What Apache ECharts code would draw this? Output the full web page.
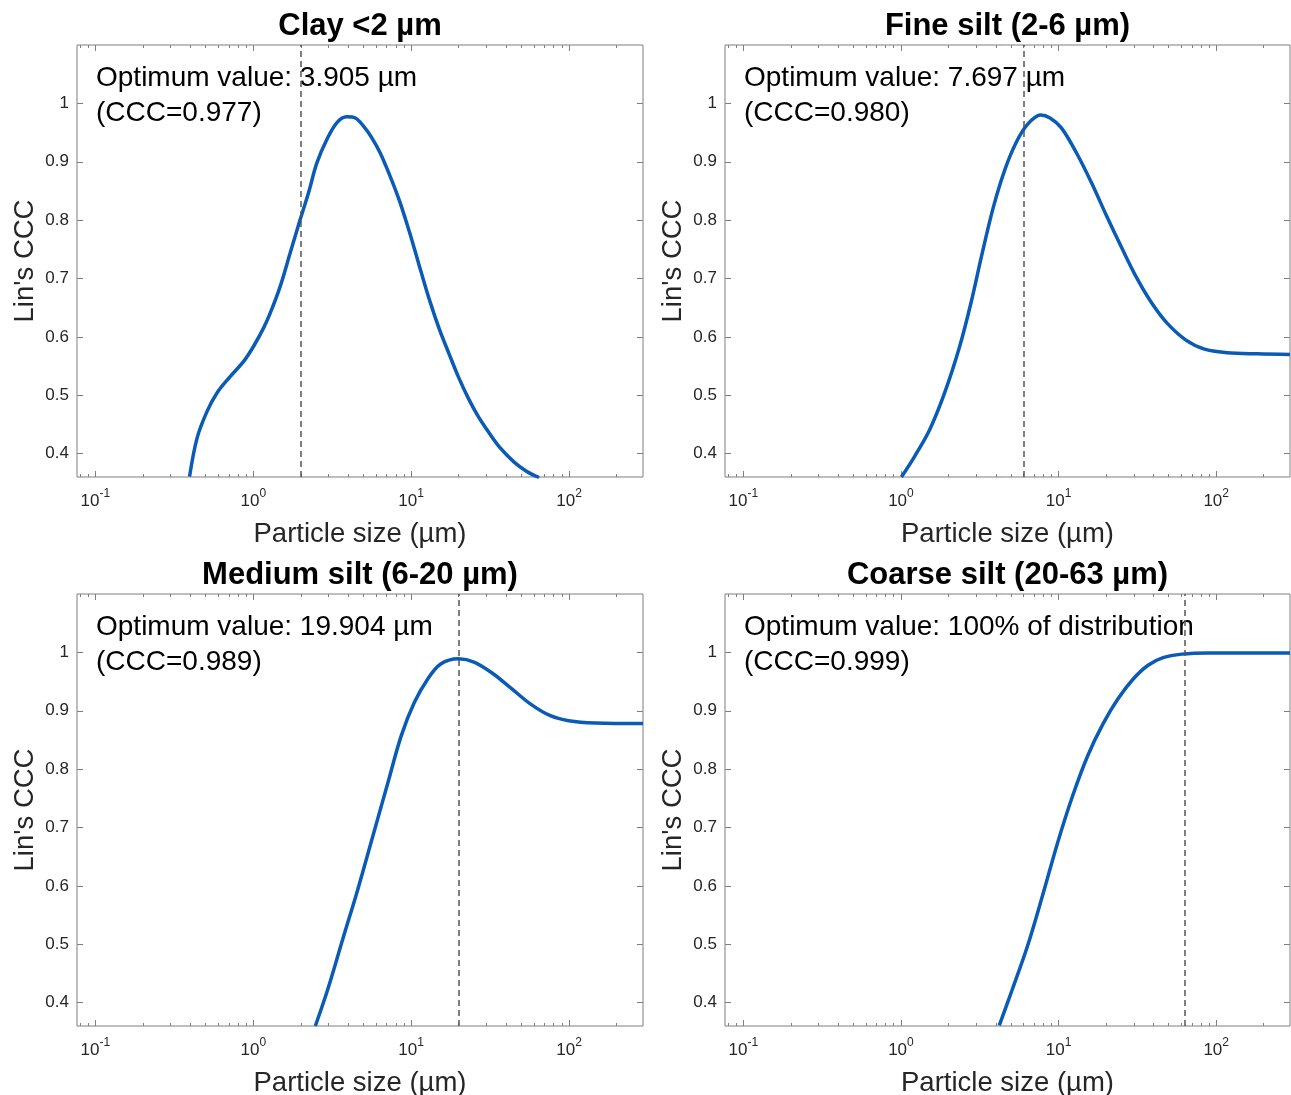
<!DOCTYPE html>
<html><head><meta charset="utf-8">
<script src="https://cdn.jsdelivr.net/npm/echarts@6/dist/echarts.min.js"></script>
<style>html,body{margin:0;padding:0;background:#fff}#c{width:1291px;height:1095px}</style>
</head><body><div id="c"></div>
<script>
// ---------------- data ----------------
const panelTitles = ['Clay <2 µm', 'Fine silt (2-6 µm)', 'Medium silt (6-20 µm)', 'Coarse silt (20-63 µm)'];
const optimumText = ['Optimum value: 3.905 µm', 'Optimum value: 7.697 µm', 'Optimum value: 19.904 µm', 'Optimum value: 100% of distribution'];
const cccText = ['(CCC=0.977)', '(CCC=0.980)', '(CCC=0.989)', '(CCC=0.999)'];
const cutoffs = [2, 6, 20, 63];

const xLabel = 'Particle size (µm)';
const yLabel = "Lin's CCC";
const xMin = 0.0765, xMax = 294;
const yMin = 0.36, yMax = 1.1;
const xMajorTicks = [0.1, 1, 10, 100];
const xMinorTicks = [0.08, 0.09, 0.2, 0.3, 0.4, 0.5, 0.6, 0.7, 0.8, 0.9,
  2, 3, 4, 5, 6, 7, 8, 9, 20, 30, 40, 50, 60, 70, 80, 90, 200];
const yTicks = [0.4, 0.5, 0.6, 0.7, 0.8, 0.9, 1];

const claySize = [0.395, 0.441, 0.509, 0.589, 0.714, 0.869, 1.005, 1.161, 1.282, 1.483, 1.714, 1.982,
  2.239, 2.529, 2.924, 3.388, 3.905, 4.426, 4.989, 5.636, 6.368, 7.362, 8.511, 10.0, 11.48, 13.18,
  15.14, 17.38, 19.95, 22.91, 26.3, 30.2, 36.3, 44.7, 53.7, 64.6];
const clayCCC = [0.361, 0.427, 0.472, 0.504, 0.532, 0.558, 0.584, 0.615, 0.641, 0.687, 0.744, 0.801,
  0.847, 0.898, 0.938, 0.967, 0.977, 0.975, 0.961, 0.941, 0.915, 0.875, 0.830, 0.770, 0.714, 0.660,
  0.612, 0.571, 0.531, 0.496, 0.466, 0.441, 0.411, 0.386, 0.370, 0.359];

const fineSize = [1.007, 1.219, 1.521, 1.892, 2.36, 2.78, 3.281, 3.873, 4.571, 5.383, 6.353, 7.697,
  8.831, 10.42, 13.0, 16.18, 20.18, 25.12, 31.33, 39.0, 48.64, 63.97, 84.33, 117.2, 182, 294];
const fineCCC = [0.360, 0.395, 0.441, 0.504, 0.584, 0.658, 0.744, 0.824, 0.887, 0.933, 0.964, 0.980,
  0.975, 0.958, 0.915, 0.864, 0.807, 0.753, 0.701, 0.658, 0.624, 0.595, 0.579, 0.573, 0.571, 0.570];

const mediumSize = [2.472, 2.965, 3.69, 4.592, 5.728, 7.129, 8.65, 10.47, 12.71, 15.38, 19.904, 25.23,
  33.19, 43.65, 57.41, 75.51, 99.5, 146.2, 294];
const mediumCCC = [0.360, 0.423, 0.509, 0.594, 0.686, 0.777, 0.857, 0.914, 0.954, 0.980, 0.989, 0.983,
  0.963, 0.937, 0.911, 0.892, 0.883, 0.879, 0.878];

const coarseSize = [4.207, 5.093, 6.353, 7.907, 9.863, 12.27, 15.31, 19.1, 23.77, 29.65, 36.98, 46.03,
  60.53, 89.13, 294];
const coarseCCC = [0.361, 0.423, 0.497, 0.583, 0.674, 0.754, 0.823, 0.877, 0.920, 0.954, 0.978, 0.991,
  0.997, 0.999, 0.999];

const sizes = [claySize, fineSize, mediumSize, coarseSize];
const cccs = [clayCCC, fineCCC, mediumCCC, coarseCCC];

// ---------------- layout / style ----------------
const FONT = '"Liberation Sans", Arial, Helvetica, sans-serif';
const BOX = '#7f7f7f';
const TXT = '#262626';
const LINE = '#0a5bb5';
const grids = [
  {left: 77, top: 45, width: 566, height: 432},
  {left: 725, top: 45, width: 565, height: 432},
  {left: 77, top: 594, width: 566, height: 432},
  {left: 725, top: 594, width: 565, height: 432}
];

function isPow10(v) {
  const e = Math.log10(v);
  return Math.abs(e - Math.round(e)) < 1e-6;
}
function powLabel(v) {
  if (!isPow10(v)) return '';
  return '{b|10}{s|' + Math.round(Math.log10(v)) + '}';
}

const xAxes = [], yAxes = [], series = [], graphics = [];
grids.forEach((g, i) => {
  const lmin = Math.log10(xMin), lmax = Math.log10(xMax);
  // main log axis (bottom) with labels
  xAxes.push({
    type: 'log', logBase: 10, gridIndex: i, min: xMin, max: xMax, position: 'bottom',
    axisLine: {show: false, onZero: false}, splitLine: {show: false},
    axisTick: {show: false},
    axisLabel: {
      margin: 11, showMinLabel: true, showMaxLabel: true, formatter: powLabel,
      fontSize: 17, fontFamily: FONT, color: TXT,
      rich: {
        b: {fontSize: 17, fontFamily: FONT, color: TXT, lineHeight: 26},
        s: {fontSize: 12, fontFamily: FONT, color: TXT, verticalAlign: 'top', lineHeight: 12}
      }
    },
    name: xLabel, nameLocation: 'middle', nameGap: 43,
    nameTextStyle: {fontSize: 27.5, fontFamily: FONT, color: TXT}
  });
  // tick axes (log10 space) bottom/top, major/minor
  [['bottom', xMajorTicks, 6], ['bottom', xMinorTicks, 3], ['top', xMajorTicks, 6], ['top', xMinorTicks, 3]].forEach(t => {
    xAxes.push({
      type: 'value', gridIndex: i, min: lmin, max: lmax, position: t[0],
      axisLine: {show: false, onZero: false}, splitLine: {show: false}, axisLabel: {show: false},
      axisTick: {show: true, inside: true, length: t[2], customValues: t[1].map(Math.log10),
        lineStyle: {color: BOX, width: 1}}
    });
  });
  yAxes.push({
    type: 'value', gridIndex: i, min: yMin, max: yMax, position: 'left',
    axisLine: {show: false, onZero: false}, splitLine: {show: false},
    axisTick: {show: true, inside: true, length: 6, customValues: yTicks, lineStyle: {color: BOX}},
    axisLabel: {customValues: yTicks, margin: 8, fontSize: 17, fontFamily: FONT, color: TXT},
    name: yLabel, nameLocation: 'middle', nameGap: 38, nameRotate: 90,
    nameTextStyle: {fontSize: 27.5, fontFamily: FONT, color: TXT}
  });
  yAxes.push({
    type: 'value', gridIndex: i, min: yMin, max: yMax, position: 'right',
    axisLine: {show: false, onZero: false}, splitLine: {show: false}, axisLabel: {show: false},
    axisTick: {show: true, inside: true, length: 6, customValues: yTicks, lineStyle: {color: BOX}}
  });
  series.push({
    type: 'line', xAxisIndex: i * 5, yAxisIndex: i * 2,
    data: sizes[i].map((s, k) => [s, cccs[i][k]]),
    showSymbol: false, smooth: 0.35, clip: true,
    lineStyle: {color: LINE, width: 3.5},
    markLine: {
      silent: true, symbol: ['none', 'none'], label: {show: false},
      lineStyle: {type: [6, 4], color: '#555555', width: 1.5},
      data: [{xAxis: cutoffs[i]}]
    },
    z: 3
  });
  const cx = g.left + g.width / 2;
  graphics.push({
    type: 'text', x: cx, y: g.top - 19,
    style: {text: panelTitles[i], font: 'bold 31px ' + FONT, fill: '#000', textAlign: 'center', textVerticalAlign: 'middle'}
  });
  graphics.push({
    type: 'text', x: g.left + 19, y: g.top + 33,
    style: {text: optimumText[i], font: '28px ' + FONT, fill: '#000', textAlign: 'left', textVerticalAlign: 'middle'}
  });
  graphics.push({
    type: 'text', x: g.left + 19, y: g.top + 68,
    style: {text: cccText[i], font: '28px ' + FONT, fill: '#000', textAlign: 'left', textVerticalAlign: 'middle'}
  });
});

const chart = echarts.init(document.getElementById('c'), null, {renderer: 'canvas'});
chart.setOption({
  animation: false,
  backgroundColor: '#ffffff',
  grid: grids.map(g => Object.assign({show: true, borderColor: BOX, borderWidth: 1, backgroundColor: 'transparent', containLabel: false, outerBoundsMode: 'none'}, g)),
  xAxis: xAxes,
  yAxis: yAxes,
  series: series,
  graphic: graphics
});
</script></body></html>
